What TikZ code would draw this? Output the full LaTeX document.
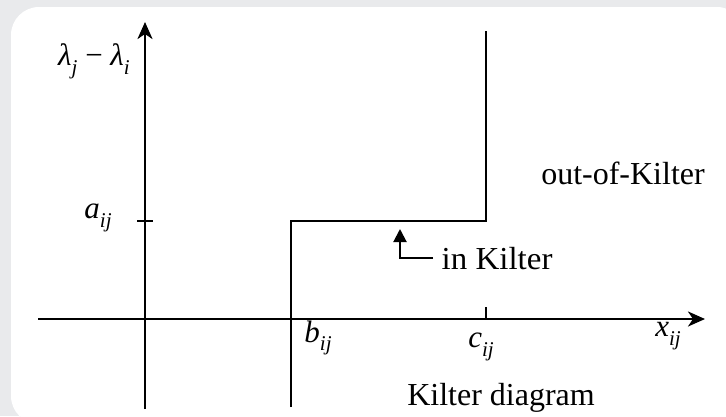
\documentclass[tikz,border=0pt]{standalone}
\usepackage{fontspec}
\setmainfont{LiberationSerif}[Extension=.ttf,UprightFont=*-Regular,ItalicFont=*-Italic,BoldFont=*-Bold,BoldItalicFont=*-BoldItalic]
\usetikzlibrary{arrows.meta}
\definecolor{bggray}{RGB}{233,234,236}
\newcommand{\msub}[2]{\textit{#1}\raisebox{-0.28em}{\fontsize{21}{22}\selectfont\textit{#2}}}
\begin{document}
\begin{tikzpicture}[x=1pt,y=1pt,
  axis/.style={line width=2.6pt,-{Stealth[width=15pt,length=17pt,inset=5pt]}},
  stepline/.style={line width=2pt},
  tick/.style={line width=2pt},
  inarrow/.style={line width=2pt,-{Triangle[width=13pt,length=13pt]}},
  txt/.style={font=\fontsize{32}{34}\selectfont,inner sep=0pt},
  mlbl/.style={font=\fontsize{31}{33}\selectfont,inner sep=0pt}]
\fill[bggray] (0,0) rectangle (726,-416);
\useasboundingbox (0,0) rectangle (726,-416);
\fill[black!10,rounded corners=28pt] (13,-10) rectangle (745,-426);
\fill[white,rounded corners=28pt] (11,-7) rectangle (745,-424);
% coordinates
\coordinate (ybot) at (145,-409);
\coordinate (ytop) at (145,-22);
\coordinate (xleft) at (38,-319);
\coordinate (xright) at (705,-319);
\coordinate (bbot) at (291,-407);
\coordinate (bcorner) at (291,-221);
\coordinate (ccorner) at (486,-221);
\coordinate (ctop) at (486,-31);
\coordinate (tal) at (137,-221);
\coordinate (tar) at (153,-221);
\coordinate (tct) at (486,-307);
\coordinate (tcb) at (486,-320);
\coordinate (iktip) at (400,-229);
% axes
\draw[axis] (ybot) -- (ytop);
\draw[axis] (xleft) -- (xright);
\draw[tick] (tal) -- (tar);
\draw[tick] (tct) -- (tcb);
% kilter line
\draw[stepline] (bbot) -- (bcorner) -- (ccorner) -- (ctop);
% labels
\node[mlbl] (lam) at (94,-61) {\msub{λ}{j} − \msub{λ}{i}};
\node[mlbl] (aij) at (98,-218) {\msub{a}{ij}};
\node[mlbl] (bij) at (318,-338) {\msub{b}{ij}};
\node[mlbl] (cij) at (481,-347) {\msub{c}{ij}};
\node[mlbl] (xij) at (668,-336) {\msub{x}{ij}};
\node[txt,anchor=base] (out) at (623,-184) {out-of-Kilter};
\node[txt,anchor=base west,inner xsep=8.5pt] (ink) at (433,-269) {\scalebox{1.03}[1]{in Kilter}};
\node[txt,anchor=base] (kd) at (501,-405) {Kilter diagram};
\draw[inarrow] (ink.west) -| (iktip);
\end{tikzpicture}
\end{document}
